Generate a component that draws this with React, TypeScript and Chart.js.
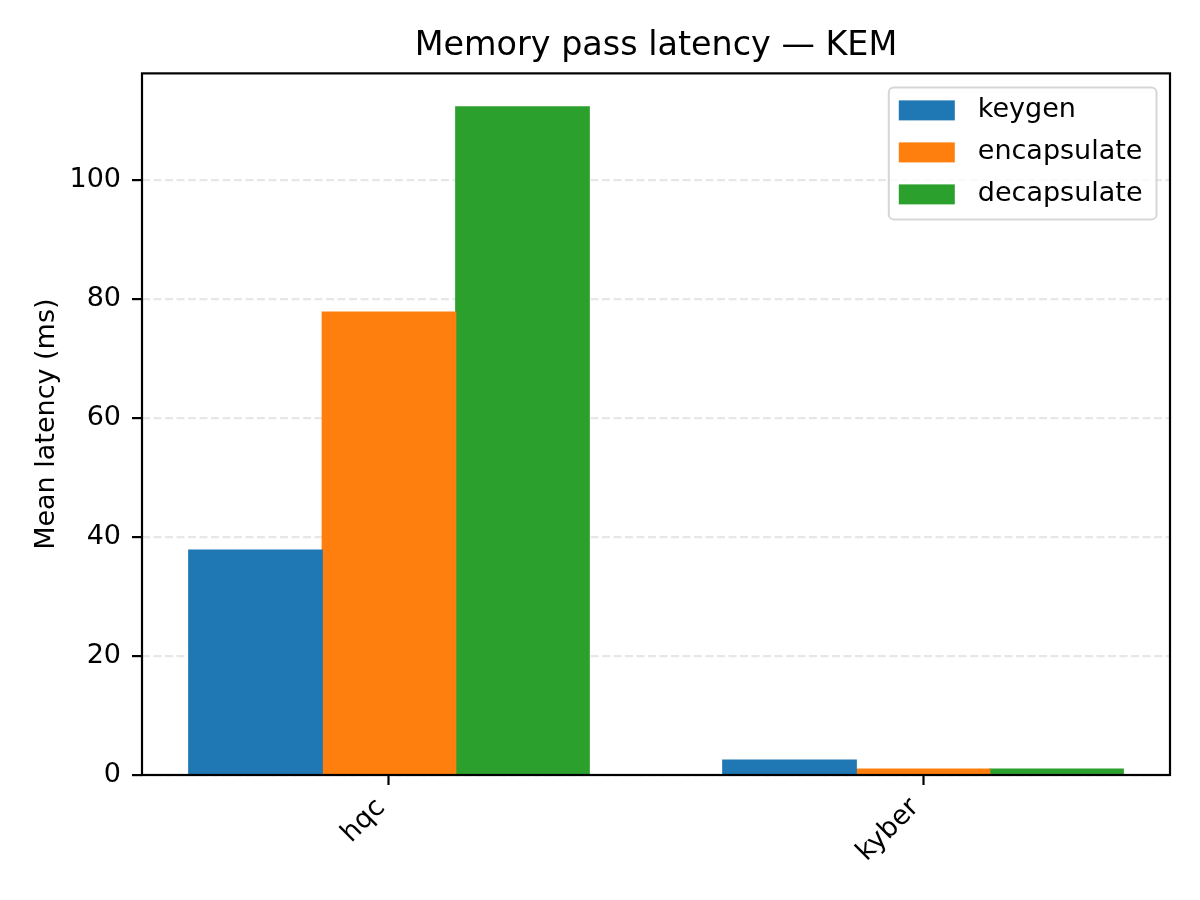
import React, { useEffect, useRef } from 'react';
import { Chart, registerables } from 'chart.js';

Chart.register(...registerables);

// ---- data ----
const categories = ['hqc', 'kyber'];
const seriesNames = ['keygen', 'encapsulate', 'decapsulate'];
const keygen = [37.8, 2.5];
const encapsulate = [77.8, 1.0];
const decapsulate = [112.3, 1.0];
const yTickStep = 20;
const chartTitle = 'Memory pass latency — KEM';
const yLabel = 'Mean latency (ms)';
const colors = ['#1f77b4', '#ff7f0e', '#2ca02c'];

const FONT = '"DejaVu Sans", "Liberation Sans", sans-serif';

const legendPlugin = {
  id: 'mplFrameLegend',
  afterDraw(chart: any) {
    const { ctx, chartArea } = chart;
    ctx.save();
    // axes frame
    ctx.strokeStyle = '#000';
    ctx.lineWidth = 2.2;
    ctx.strokeRect(
      chartArea.left,
      chartArea.top,
      chartArea.right - chartArea.left,
      chartArea.bottom - chartArea.top
    );
    // legend
    const fs = 27;
    ctx.font = `${fs}px ${FONT}`;
    const ds = chart.data.datasets;
    const textW = Math.max(...ds.map((d: any) => ctx.measureText(d.label).width));
    const swW = 56, swH = 20, rowH = 42, padL = 10, gap = 23, padR = 14;
    const boxW = padL + swW + gap + textW + padR;
    const boxH = rowH * ds.length + 6;
    const boxRight = chartArea.right - 13.5;
    const boxTop = chartArea.top + 14;
    const boxLeft = boxRight - boxW;
    ctx.beginPath();
    (ctx as any).roundRect(boxLeft, boxTop, boxW, boxH, 5);
    ctx.fillStyle = 'rgba(255,255,255,0.8)';
    ctx.fill();
    ctx.strokeStyle = 'rgba(204,204,204,0.8)';
    ctx.lineWidth = 2;
    ctx.stroke();
    ds.forEach((d: any, i: number) => {
      const cy = boxTop + 23 + rowH * i;
      ctx.fillStyle = d.backgroundColor;
      ctx.fillRect(boxLeft + padL, cy - swH / 2, swW, swH);
      ctx.fillStyle = '#000';
      ctx.textAlign = 'left';
      ctx.textBaseline = 'middle';
      ctx.fillText(d.label, boxLeft + padL + swW + gap, cy);
    });
    ctx.restore();
  },
};

export default function App() {
  const ref = useRef<HTMLCanvasElement>(null);

  useEffect(() => {
    if (!ref.current) return;
    const series = [keygen, encapsulate, decapsulate];
    const allVals = series.flat();
    const yMax = Math.max(...allVals) * 1.05;
    const groupHalf = 0.375;
    const span = categories.length - 1 + 2 * groupHalf;
    const xMin = -groupHalf - 0.05 * span;
    const xMax = categories.length - 1 + groupHalf + 0.05 * span;

    const tickFont = { family: FONT, size: 27, weight: 'normal' as const };

    const chart = new Chart(ref.current, {
      type: 'bar',
      data: {
        datasets: series.map((vals, si) => ({
          label: seriesNames[si],
          data: vals.map((v, i) => ({ x: i, y: v })),
          backgroundColor: colors[si],
          borderWidth: 0,
          inflateAmount: 0.6,
          categoryPercentage: 0.75,
          barPercentage: 1.0,
        })),
      },
      options: {
        responsive: false,
        animation: false,
        devicePixelRatio: 1,
        layout: { padding: { left: 0, right: 30, top: 0, bottom: 0 } },
        plugins: {
          legend: { display: false },
          tooltip: { enabled: false },
          title: {
            display: true,
            text: chartTitle,
            fullSize: false,
            color: '#000',
            font: { family: FONT, size: 33.4, weight: 'normal', lineHeight: 1.2 },
            padding: { top: 26.5, bottom: 6.8 },
          },
        },
        scales: {
          x: {
            type: 'linear',
            min: xMin,
            max: xMax,
            offset: false,
            afterFit: (s: any) => {
              s.height = 125;
            },
            afterBuildTicks: (s: any) => {
              s.ticks = categories.map((_, i) => ({ value: i }));
            },
            ticks: {
              autoSkip: false,
              minRotation: 45,
              maxRotation: 45,
              color: '#000',
              font: tickFont,
              padding: 7,
              labelOffset: -8,
              callback: (v: any) => categories[v as number] ?? '',
            },
            grid: {
              display: true,
              offset: false,
              drawOnChartArea: false,
              drawTicks: true,
              tickLength: 10,
              tickWidth: 2.2,
              tickColor: '#000',
            },
            border: { display: false },
          },
          y: {
            min: 0,
            max: yMax,
            z: 1,
            afterFit: (s: any) => {
              s.width = 142;
            },
            afterBuildTicks: (s: any) => {
              s.ticks = s.ticks.filter(
                (t: any) => Math.abs(t.value / yTickStep - Math.round(t.value / yTickStep)) < 1e-9
              );
            },
            ticks: {
              stepSize: yTickStep,
              color: '#000',
              font: tickFont,
              padding: 11,
            },
            grid: {
              color: 'rgba(176,176,176,0.3)',
              lineWidth: 2.2,
              tickColor: '#000',
              tickLength: 10,
              tickWidth: 2.2,
              tickBorderDash: [],
            },
            border: { display: false, dash: [8, 3.5] },
            title: {
              display: true,
              text: yLabel,
              color: '#000',
              font: { family: FONT, size: 27, weight: 'normal', lineHeight: 1.2 },
              padding: { top: 30.5, bottom: 0 },
            },
          },
        },
      },
      plugins: [legendPlugin],
    } as any);

    return () => chart.destroy();
  }, []);

  return (
    <div style={{ position: 'fixed', left: 0, top: 0, width: 1200, height: 900, background: '#fff' }}>
      <canvas ref={ref} width={1200} height={900} style={{ display: 'block', width: 1200, height: 900 }} />
    </div>
  );
}
